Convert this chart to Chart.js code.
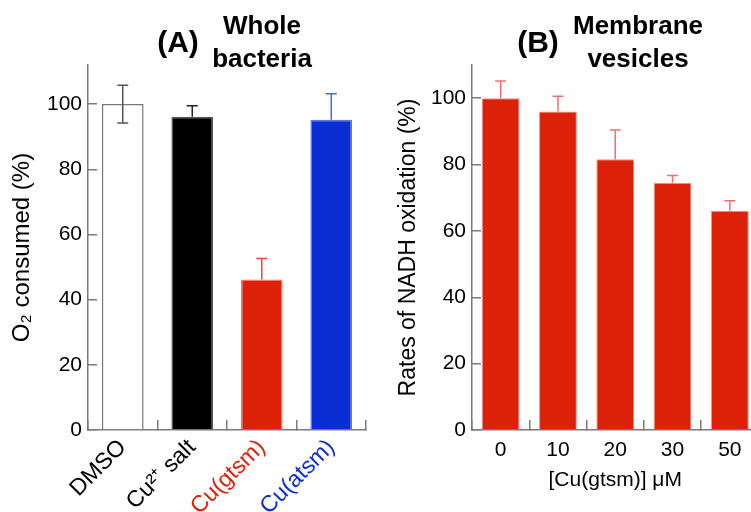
<!DOCTYPE html>
<html lang="en">
<head>
<meta charset="UTF-8">
<title>Whole bacteria / Membrane vesicles</title>
<script src="https://cdn.jsdelivr.net/npm/chart.js"></script>
<style>
  html, body { margin: 0; padding: 0; background: #fff; overflow: hidden; width: 751px; height: 512px; }
  body { position: relative; font-family: "Liberation Sans", Arial, sans-serif; }
  canvas { position: absolute; top: 0; }
  #cA { left: 0; }
  #cB { left: 375px; }
  .ttl { position: absolute; font-weight: bold; color: #000; text-align: center; white-space: nowrap; }
</style>
</head>
<body>
<canvas id="cA" width="375" height="512"></canvas>
<canvas id="cB" width="400" height="512"></canvas>

<div class="ttl" style="left:150px; top:25px; width:56px; font-size:30px;">(A)</div>
<div class="ttl" style="left:200px; top:9px; width:124px; font-size:26px; line-height:33px;">Whole<br>bacteria</div>
<div class="ttl" style="left:510px; top:25px; width:56px; font-size:30px;">(B)</div>
<div class="ttl" style="left:567px; top:9px; width:142px; font-size:26px; line-height:33px;">Membrane<br>vesicles</div>

<script>
// panel A - whole bacteria
const labelsA = ['DMSO', 'Cu\u00B2\u207A salt', 'Cu(gtsm)', 'Cu(atsm)'];
const valuesA = [100, 96.1, 46.2, 95.2];
const errorsA = [5.8, 3.4, 6.4, 8.0];
const labelColorsA = ['#000000', '#000000', '#dd2008', '#0a2ed4'];

// panel B - membrane vesicles
const labelsB = ['0', '10', '20', '30', '50'];
const valuesB = [100, 96.0, 81.6, 74.5, 66.1];
const errorsB = [5.2, 4.6, 8.8, 2.2, 3.0];

const yTicks = [0, 20, 40, 60, 80, 100];

const FONT = '"Liberation Sans", Arial, sans-serif';
const AXIS = '#7a7a7a';

// draws error bars from dataset.errors
const errorBars = {
  id: 'errorBars',
  afterDatasetsDraw(chart) {
    const ctx = chart.ctx;
    const y = chart.scales.y;
    chart.data.datasets.forEach((ds, di) => {
      const meta = chart.getDatasetMeta(di);
      meta.data.forEach((bar, i) => {
        const v = ds.data[i], e = ds.errors[i];
        const top = y.getPixelForValue(v + e);
        const bottom = ds.errBoth[i] ? y.getPixelForValue(v - e) : bar.y;
        ctx.save();
        ctx.strokeStyle = ds.errColors[i];
        ctx.lineWidth = 1.5;
        ctx.beginPath();
        ctx.moveTo(bar.x, bottom);
        ctx.lineTo(bar.x, top);
        ctx.moveTo(bar.x - 5.5, top);
        ctx.lineTo(bar.x + 5.5, top);
        if (ds.errBoth[i]) {
          ctx.moveTo(bar.x - 5.5, bottom);
          ctx.lineTo(bar.x + 5.5, bottom);
        }
        ctx.stroke();
        ctx.restore();
      });
    });
  }
};

function makeChart(id, labels, dataset, opts) {
  return new Chart(document.getElementById(id), {
    type: 'bar',
    data: { labels: labels, datasets: [dataset] },
    plugins: [errorBars],
    options: {
      responsive: false,
      animation: false,
      devicePixelRatio: 1,
      layout: { padding: { top: 65, right: opts.padRight, left: 0, bottom: 0 } },
      plugins: { legend: { display: false }, tooltip: { enabled: false } },
      scales: {
        x: {
          grid: { drawOnChartArea: false, drawTicks: true, tickLength: -10, color: AXIS, lineWidth: 1.5 },
          border: { color: AXIS, width: 1.5 },
          ticks: opts.xTicks,
          title: opts.xTitle,
          afterFit(s) { s.height = 82; }
        },
        y: {
          min: 0,
          max: opts.yMax,
          afterBuildTicks(s) { s.ticks = yTicks.map(v => ({ value: v })); },
          grid: { drawOnChartArea: false, drawTicks: true, tickLength: -9, color: AXIS, lineWidth: 1.5 },
          border: { color: AXIS, width: 1.5 },
          ticks: { color: '#000', padding: 15, font: { family: FONT, size: 21 } },
          title: {
            display: true,
            text: opts.yTitle,
            color: '#000',
            font: { family: FONT, size: opts.yTitleSize },
            padding: opts.yTitlePad
          },
          afterFit(s) { s.width = opts.yWidth; }
        }
      }
    }
  });
}

makeChart('cA', labelsA, {
  data: valuesA,
  errors: errorsA,
  errBoth: [true, false, false, false],
  errColors: ['#555555', '#222222', '#ee4433', '#4a66e0'],
  backgroundColor: ['#ffffff', '#000000', '#dd2008', '#0a2ed4'],
  borderColor: ['#777777', '#555555', '#f07a6a', '#5a76e8'],
  borderWidth: 1.5,
  categoryPercentage: 1,
  barPercentage: 0.6
}, {
  padRight: 9,
  yMax: 112,
  yWidth: 88,
  yTitle: 'O\u2082 consumed (%)',
  yTitleSize: 24,
  yTitlePad: 8,
  xTicks: {
    color: ctx => labelColorsA[ctx.index],
    minRotation: 45,
    maxRotation: 45,
    padding: 14,
    font: { family: FONT, size: 23 }
  },
  xTitle: { display: false }
});

makeChart('cB', labelsB, {
  data: valuesB,
  errors: errorsB,
  errBoth: [false, false, false, false, false],
  errColors: labelsB.map(() => '#f07070'),
  backgroundColor: '#dd2008',
  borderColor: '#f3908a',
  borderWidth: 1,
  categoryPercentage: 1,
  barPercentage: 0.66
}, {
  padRight: 16.5,
  yMax: 110,
  yWidth: 97,
  yTitle: 'Rates of NADH oxidation (%)',
  yTitleSize: 23,
  yTitlePad: 20,
  xTicks: {
    color: '#000',
    maxRotation: 0,
    padding: 18,
    font: { family: FONT, size: 21 }
  },
  xTitle: {
    display: true,
    text: '[Cu(gtsm)] \u03BCM',
    color: '#000',
    font: { family: FONT, size: 21 },
    padding: { top: 19, bottom: 19 }
  }
});
</script>
</body>
</html>
